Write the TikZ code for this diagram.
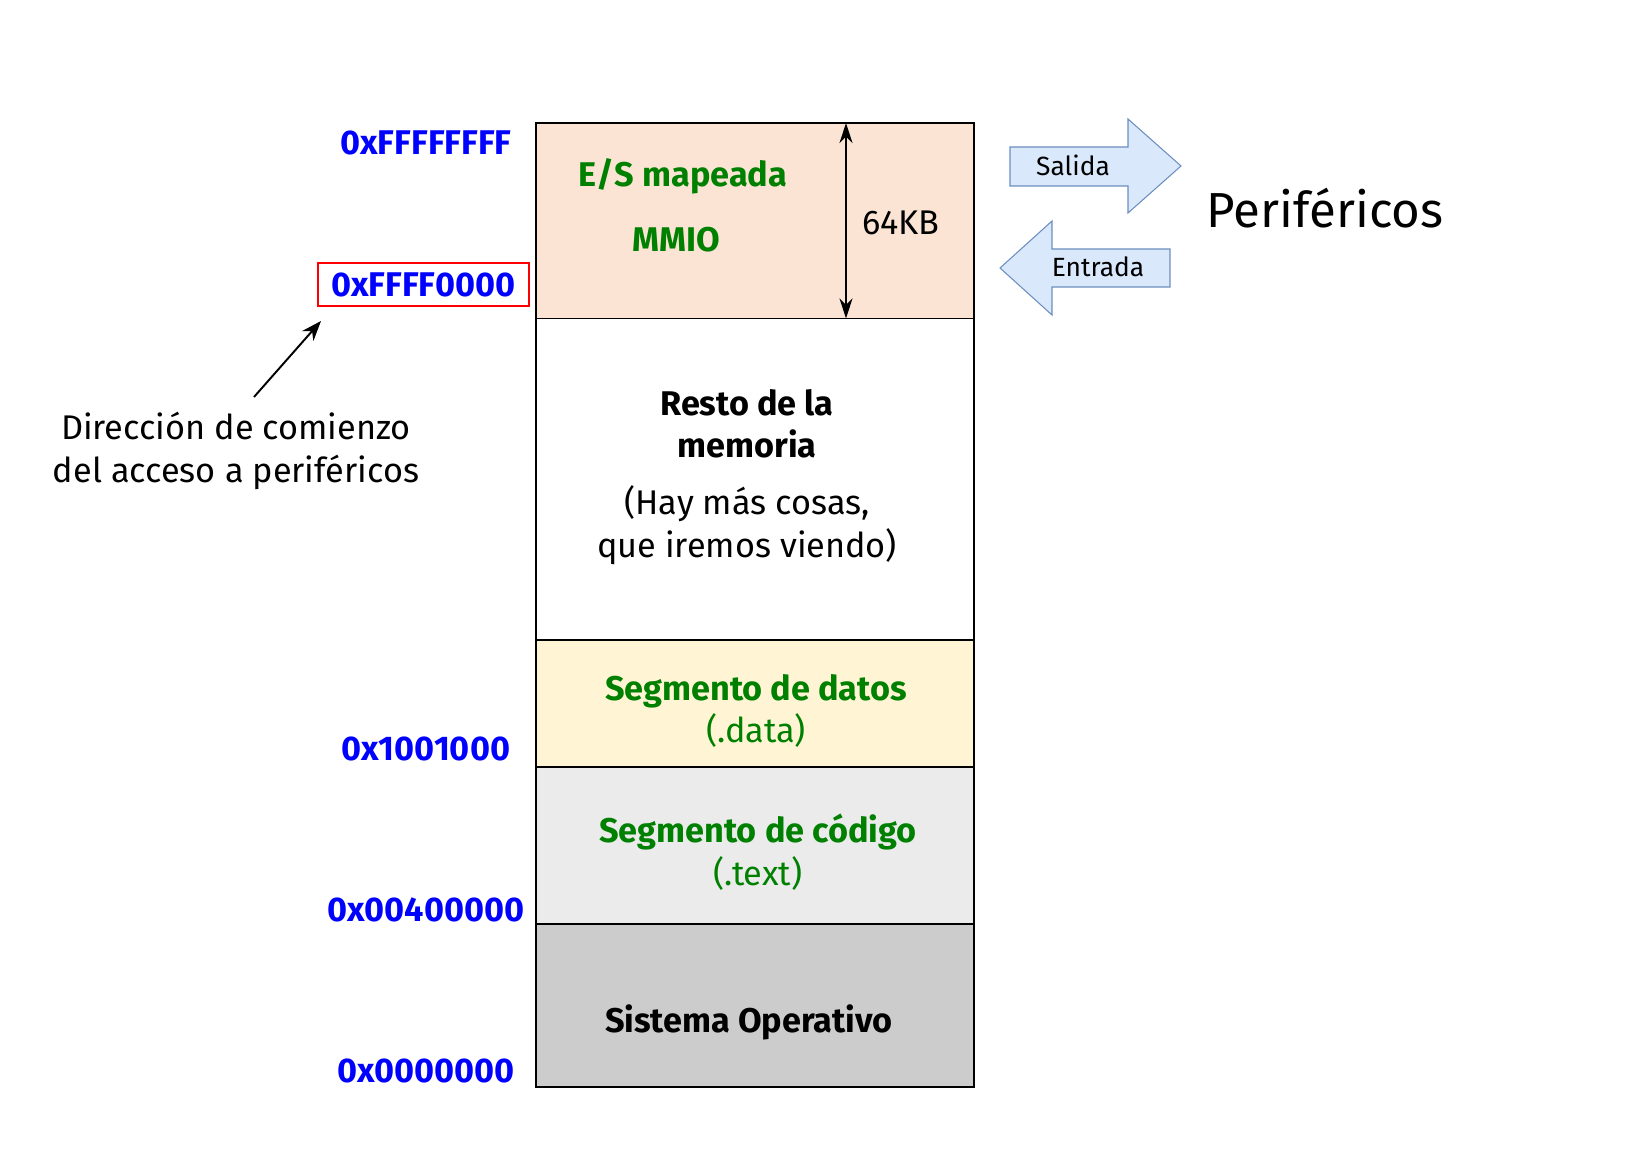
\documentclass[tikz,border=0pt]{standalone}
\usepackage{fontspec}
\setmainfont{Fira Sans}
\usetikzlibrary{positioning,arrows.meta}
\definecolor{azul}{RGB}{0,0,255}
\definecolor{verde}{RGB}{0,128,0}
\definecolor{mmiocol}{RGB}{252,228,213}
\definecolor{datoscol}{RGB}{255,245,212}
\definecolor{codcol}{RGB}{235,235,235}
\definecolor{socol}{RGB}{204,204,204}
\definecolor{perfill}{RGB}{218,232,252}
\definecolor{perdraw}{RGB}{108,142,191}
\begin{document}
\begin{tikzpicture}[x=0.02cm,y=-0.02cm]
\tikzstyle{bloque} = [rectangle, draw=black, line width=0.8pt, minimum width=8.76cm, outer sep=0pt, inner sep=0pt]
\tikzstyle{dir} = [text=azul, font=\fontsize{19.5}{24}\selectfont\bfseries]
\tikzstyle{etiq} = [align=center, font=\fontsize{19.5}{24.4}\selectfont]
\tikzstyle{perif} = [fill=perfill, draw=perdraw, line width=0.6pt]
\tikzstyle{arrow} = [line width=1.1pt, -{Stealth[length=4mm,width=3mm]}]
\tikzstyle{dimarrow} = [line width=0.9pt, {Stealth[length=4mm,width=2.6mm]}-{Stealth[length=4mm,width=2.6mm]}]
\useasboundingbox (0,0) rectangle (1648,1151);

%bloques de memoria
\node (mmio) [bloque, fill=mmiocol, minimum height=3.91cm] at (755,220.75) {};
\node (resto) [bloque, below=0pt of mmio, minimum height=6.43cm] {};
\node (datos) [bloque, fill=datoscol, below=0pt of resto, minimum height=2.54cm] {};
\node (codigo) [bloque, fill=codcol, below=0pt of datos, minimum height=3.14cm] {};
\node (so) [bloque, fill=socol, below=0pt of codigo, minimum height=3.26cm] {};

%textos
\node (es) [etiq, text=verde, font=\fontsize{19.5}{24.4}\selectfont\bfseries] at (683,176) {E/S mapeada};
\node (mmiotxt) [etiq, text=verde, font=\fontsize{19.5}{24.4}\selectfont\bfseries] at (676,240) {MMIO};
\node (kb) [etiq] at (901,223) {64KB};
\node (restotxt) [etiq] at (747,477) {\textbf{Resto de la}\\\textbf{memoria}\\[8pt](Hay más cosas,\\que iremos viendo)};
\node (datostxt) [etiq, text=verde] at (756,711) {\textbf{Segmento de datos}\\(.data)};
\node (codtxt) [etiq, text=verde] at (758,852) {\textbf{Segmento de código}\\(.text)};
\node (sotxt) [etiq, font=\fontsize{19.5}{24.4}\selectfont\bfseries] at (749,1022) {Sistema Operativo};

%direcciones
\node (fffffff) [dir] at (426,143) {0xFFFFFFFF};
\node (ffff) [dir, draw=red, line width=0.6pt, minimum width=4.22cm, minimum height=0.86cm] at (423.5,284.5) {0xFFFF0000};
\node (d1001) [dir] at (426,749) {0x1001000};
\node (d0040) [dir] at (426,910) {0x00400000};
\node (d0000) [dir] at (426,1071) {0x0000000};
\node (comienzo) [etiq] at (236,451) {Dirección de comienzo\\del acceso a periféricos};

%perifericos
\coordinate (salida) at (1010,147);
\coordinate (entrada) at (1000,268);
\draw [perif] (salida) -- ++(118,0) -- ++(0,-28) -- ++(53,47) -- ++(-53,47) -- ++(0,-27) -- ++(-118,0) -- cycle;
\draw [perif] (entrada) -- ++(52,-47) -- ++(0,28) -- ++(118,0) -- ++(0,38) -- ++(-118,0) -- ++(0,28) -- cycle;
\node (salidatxt) [font=\fontsize{15}{18}\selectfont] at (1073,165) {Salida};
\node (entradatxt) [font=\fontsize{15}{18}\selectfont] at (1098,267) {Entrada};
\node (perifericos) [font=\fontsize{28}{34}\selectfont] at (1325,208) {Periféricos};

%flechas
\coordinate (dimx) at (846,0);
\coordinate (inicio) at (254,397);
\coordinate (punta) at (321,321);
\draw [dimarrow] (mmio.north -| dimx) -- (mmio.south -| dimx);
\draw [arrow] (inicio) -- (punta);
\end{tikzpicture}
\end{document}
